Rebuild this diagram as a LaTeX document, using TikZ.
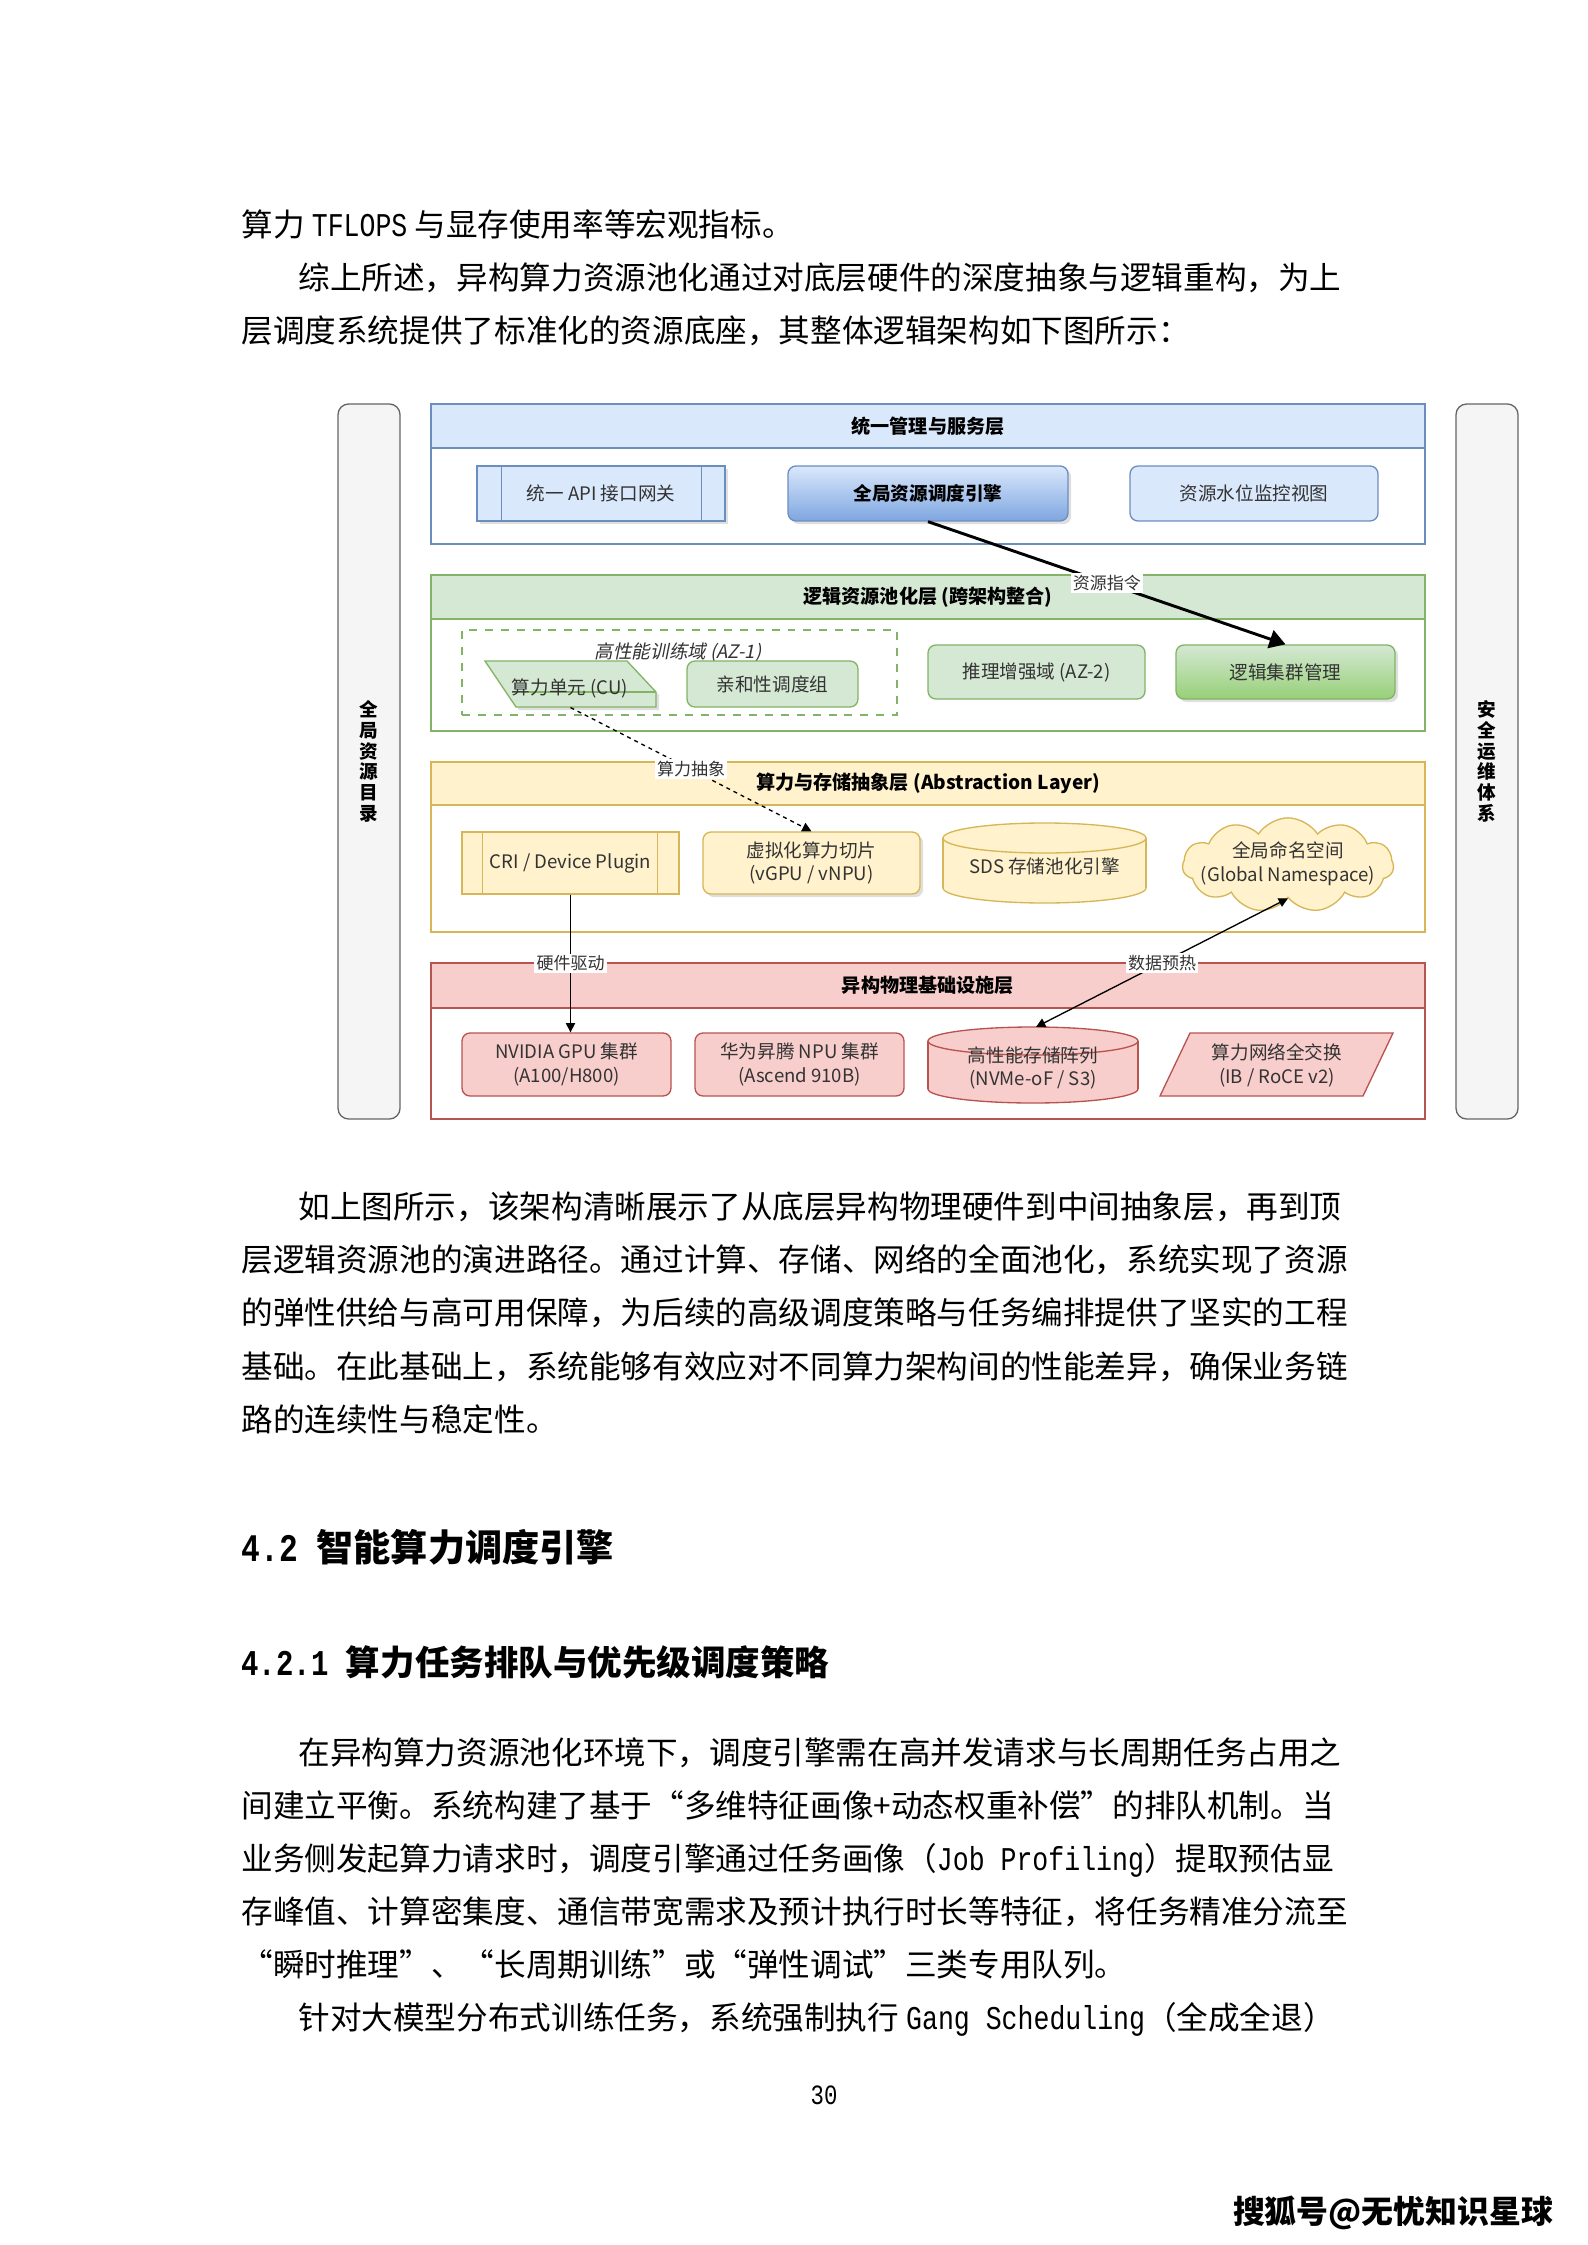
\documentclass[tikz,border=0pt]{standalone}
\usepackage{fontspec}
\setmainfont{Noto Sans CJK SC}
\newfontfamily\latinmono{Liberation Mono}[Scale=1.05,FakeStretch=0.8]
\newfontfamily\slantcjk{Noto Sans CJK SC}[FakeSlant=0.2]
\usetikzlibrary{positioning,arrows.meta,fit,shapes.symbols,shadows}

\definecolor{blueFill}{HTML}{DAE8FC}
\definecolor{blueLine}{HTML}{6C8EBF}
\definecolor{blueDeep}{HTML}{7EA6E0}
\definecolor{greenFill}{HTML}{D5E8D4}
\definecolor{greenLine}{HTML}{82B366}
\definecolor{greenDeep}{HTML}{97D077}
\definecolor{yellowFill}{HTML}{FFF2CC}
\definecolor{yellowLine}{HTML}{D6B656}
\definecolor{redFill}{HTML}{F8CECC}
\definecolor{redLine}{HTML}{B85450}
\definecolor{grayFill}{HTML}{F5F5F5}
\definecolor{grayLine}{HTML}{666666}
\definecolor{boxText}{HTML}{333333}

\newcommand{\pagefont}{\fontsize{11.9pt}{14pt}\selectfont}
\newcommand{\boxfont}{\fontsize{7pt}{9pt}\selectfont}
\newcommand{\headfont}{\fontsize{7.2pt}{9pt}\selectfont\bfseries}

\begin{document}
\begin{tikzpicture}[x=0.3765pt,y=-0.3765pt,>={Triangle[length=3.5pt,width=3.5pt]},
  textline/.style={anchor=base west,inner sep=0,font=\pagefont},
  frame/.style={draw=#1,fill=white,line width=0.5pt,inner sep=0},
  head/.style={draw=#1,line width=0.5pt,inner sep=0},
  headtext/.style={inner sep=0,font=\headfont},
  sidebar/.style={draw=grayLine,fill=grayFill,rounded corners=4pt,line width=0.5pt,inner sep=0},
  sidetext/.style={inner sep=0,align=center,font=\fontsize{7pt}{7.8pt}\selectfont\bfseries},
  card/.style={draw=#1,line width=0.5pt,inner sep=0,rounded corners=3pt},
  plainbox/.style={draw=#1,line width=0.5pt,inner sep=0},
  boxtext/.style={inner sep=0,font=\boxfont,text=boxText,align=center},
  shade/.style={drop shadow={shadow xshift=1.2pt,shadow yshift=-1.2pt,opacity=0.25}},
  edgelabel/.style={fill=white,inner sep=0.8pt,font=\fontsize{6.4pt}{7pt}\selectfont,text=boxText}]
\useasboundingbox (0,0) rectangle (1587,2245);
\fill[white] (0,0) rectangle (1587,2245);

% text above the figure
\node[textline] (p1a) at (241,237) {算力 {\latinmono TFLOPS} 与显存使用率等宏观指标。};
\node[textline] (p1b) at (298,290) {综上所述，异构算力资源池化通过对底层硬件的深度抽象与逻辑重构，为上};
\node[textline] (p1c) at (241,343) {层调度系统提供了标准化的资源底座，其整体逻辑架构如下图所示：};

% side columns
\node[sidebar,fit={(338,404)(400,1119)}] (catalog) {};
\node[sidetext] (catalogtext) at (catalog.center) {全\\局\\资\\源\\目\\录};
\node[sidebar,fit={(1456,404)(1518,1119)}] (secops) {};
\node[sidetext] (secopstext) at (secops.center) {安\\全\\运\\维\\体\\系};

% layer 1: management
\node[frame=blueLine,fit={(431,404)(1425,544)}] (mgmt) {};
\node[head=blueLine,fill=blueFill,fit={(431,404)(1425,448)}] (mgmthead) {};
\node[headtext] (mgmttitle) at (mgmthead.center) {统一管理与服务层};
\node[plainbox=blueLine,fill=blueFill,shade,fit={(477,466)(725,521)}] (api) {};
\draw[blueLine,line width=0.5pt] ([xshift=9.4pt]api.north west) -- ([xshift=9.4pt]api.south west)
  ([xshift=-9pt]api.north east) -- ([xshift=-9pt]api.south east);
\node[boxtext] (apitext) at (api.center) {统一 API 接口网关};
\node[card=blueLine,top color=blueFill,bottom color=blueDeep,shade,fit={(788,466)(1068,521)}] (sched) {};
\node[boxtext,font=\boxfont\bfseries,text=black] (schedtext) at (sched.center) {全局资源调度引擎};
\node[card=blueLine,fill=blueFill,fit={(1130,466)(1378,521)}] (watermon) {};
\node[boxtext] (watermontext) at (watermon.center) {资源水位监控视图};

% layer 2: logical pool
\node[frame=greenLine,fit={(431,575)(1425,731)}] (pool) {};
\node[head=greenLine,fill=greenFill,fit={(431,575)(1425,619)}] (poolhead) {};
\node[headtext] (pooltitle) at (poolhead.center) {逻辑资源池化层 (跨架构整合)};
\node[draw=greenLine,dashed,line width=0.5pt,inner sep=0,fit={(462,630)(897,715)}] (trainzone) {};
\node[boxtext,font={\slantcjk\boxfont}] (trainlabel) at (678,652) {高性能训练域 (AZ-1)};
\filldraw[draw=greenLine,fill=greenFill,line width=0.5pt,shade]
  (485,661) -- (627,661) -- (656,692) -- (656,707) -- (516,707) -- cycle;
\draw[greenLine,line width=0.5pt] (512,692) -- (656,692);
\node[inner sep=0,fit={(485,661)(656,707)}] (cu) {};
\node[boxtext] (cutext) at (570,688) {算力单元 (CU)};
\node[card=greenLine,fill=greenFill,fit={(687,661)(858,707)}] (affinity) {};
\node[boxtext] (affinitytext) at (affinity.center) {亲和性调度组};
\node[card=greenLine,fill=greenFill,fit={(928,645)(1145,699)}] (az2) {};
\node[boxtext] (az2text) at (az2.center) {推理增强域 (AZ-2)};
\node[card=greenLine,top color=greenFill,bottom color=greenDeep,shade,fit={(1176,645)(1395,699)}] (cluster) {};
\node[boxtext] (clustertext) at (cluster.center) {逻辑集群管理};

% layer 3: abstraction
\node[frame=yellowLine,fit={(431,762)(1425,932)}] (absl) {};
\node[head=yellowLine,fill=yellowFill,fit={(431,762)(1425,805)}] (abslhead) {};
\node[headtext] (absltitle) at (abslhead.center) {算力与存储抽象层 (Abstraction Layer)};
\node[plainbox=yellowLine,fill=yellowFill,fit={(462,832)(679,894)}] (cri) {};
\draw[yellowLine,line width=0.5pt] ([xshift=7.9pt]cri.north west) -- ([xshift=7.9pt]cri.south west)
  ([xshift=-8.3pt]cri.north east) -- ([xshift=-8.3pt]cri.south east);
\node[boxtext] (critext) at (cri.center) {CRI / Device Plugin};
\node[card=yellowLine,fill=yellowFill,shade,fit={(703,832)(920,894)}] (vslice) {};
\node[boxtext] (vslicetext) at (vslice.center) {虚拟化算力切片\\(vGPU / vNPU)};
\filldraw[draw=yellowLine,fill=yellowFill,line width=0.5pt] (1044.5,888) ellipse [x radius=101.5,y radius=15];
\fill[yellowFill] (943,838) rectangle (1146,888);
\draw[yellowLine,line width=0.5pt] (943,838) -- (943,888) (1146,838) -- (1146,888);
\filldraw[draw=yellowLine,fill=yellowFill,line width=0.5pt] (1044.5,838) ellipse [x radius=101.5,y radius=15];
\node[boxtext] (sds) at (1044.5,866) {SDS 存储池化引擎};
\node[cloud,cloud puffs=11,cloud puff arc=115,cloud ignores aspect,draw=yellowLine,fill=yellowFill,
  line width=0.5pt,minimum width=79.5pt,minimum height=35.5pt,inner sep=0] (gns) at (1288,865) {};
\node[boxtext] (gnstext) at (1288,864) {全局命名空间\\(Global Namespace)};

% layer 4: physical
\node[frame=redLine,fit={(431,963)(1425,1119)}] (phys) {};
\node[head=redLine,fill=redFill,fit={(431,963)(1425,1008)}] (physhead) {};
\node[headtext] (physTitle) at (physhead.center) {异构物理基础设施层};
\node[card=redLine,fill=redFill,fit={(462,1033)(671,1096)}] (nvidia) {};
\node[boxtext] (nvidiatext) at (nvidia.center) {NVIDIA GPU 集群\\(A100/H800)};
\node[card=redLine,fill=redFill,fit={(695,1033)(904,1096)}] (ascend) {};
\node[boxtext] (ascendtext) at (ascend.center) {华为昇腾 NPU 集群\\(Ascend 910B)};
\filldraw[draw=redLine,fill=redFill,line width=0.5pt] (1033,1089) ellipse [x radius=105,y radius=14];
\fill[redFill] (928,1041) rectangle (1138,1089);
\draw[redLine,line width=0.5pt] (928,1041) -- (928,1089) (1138,1041) -- (1138,1089);
\filldraw[draw=redLine,fill=redFill,line width=0.5pt] (1033,1041) ellipse [x radius=105,y radius=14];
\node[boxtext] (nvme) at (1033,1068) {高性能存储阵列\\(NVMe-oF / S3)};
\coordinate (nvmetop) at (1036,1027);
\filldraw[draw=redLine,fill=redFill,line width=0.5pt] (1190,1033) -- (1393,1033) -- (1363,1096) -- (1160,1096) -- cycle;
\node[boxtext] (fabric) at (1277,1065) {算力网络全交换\\(IB / RoCE v2)};

% connectors
\draw[line width=1.1pt,-{Triangle[length=6pt,width=7pt]}] (sched.south) -- (cluster.north)
  node[midway,edgelabel]{资源指令};
\draw[line width=0.5pt,dash pattern=on 1.5pt off 1.5pt,->] (cu.south) -- (vslice.north)
  node[midway,edgelabel]{算力抽象};
\draw[line width=0.5pt,->] (cri.south) -- (cri.south |- nvidia.north)
  node[midway,edgelabel]{硬件驱动};
\draw[line width=0.5pt,<->] (nvmetop) -- (gns.south)
  node[midway,edgelabel]{数据预热};

% text below the figure
\node[textline] (p2a) at (298,1218) {如上图所示，该架构清晰展示了从底层异构物理硬件到中间抽象层，再到顶};
\node[textline] (p2b) at (241,1271) {层逻辑资源池的演进路径。通过计算、存储、网络的全面池化，系统实现了资源};
\node[textline] (p2c) at (241,1324) {的弹性供给与高可用保障，为后续的高级调度策略与任务编排提供了坚实的工程};
\node[textline] (p2d) at (241,1378) {基础。在此基础上，系统能够有效应对不同算力架构间的性能差异，确保业务链};
\node[textline] (p2e) at (241,1431) {路的连续性与稳定性。};

\node[textline,font=\fontsize{14pt}{16pt}\selectfont\bfseries] (sec42) at (241,1561)
  {{\latinmono\bfseries 4.2 }智能算力调度引擎};
\node[textline,font=\fontsize{13pt}{15pt}\selectfont\bfseries] (sec421) at (241,1675)
  {{\latinmono\bfseries 4.2.1 }算力任务排队与优先级调度策略};

\node[textline] (p3a) at (298,1764) {在异构算力资源池化环境下，调度引擎需在高并发请求与长周期任务占用之};
\node[textline] (p3b) at (241,1817) {间建立平衡。系统构建了基于“多维特征画像+动态权重补偿”的排队机制。当};
\node[textline] (p3c) at (241,1870) {业务侧发起算力请求时，调度引擎通过任务画像（{\latinmono Job Profiling}）提取预估显};
\node[textline] (p3d) at (241,1923) {存峰值、计算密集度、通信带宽需求及预计执行时长等特征，将任务精准分流至};
\node[textline] (p3e) at (241,1976) {“瞬时推理”、“长周期训练”或“弹性调试”三类专用队列。};
\node[textline] (p3f) at (298,2029) {针对大模型分布式训练任务，系统强制执行 {\latinmono Gang Scheduling}（全成全退）};

\node[font=\fontsize{10pt}{11pt}\selectfont\latinmono,inner sep=0] (pageno) at (824,2095) {30};
\node[font=\fontsize{12pt}{14pt}\selectfont\bfseries,inner sep=0] (sohu) at (1393,2213) {搜狐号@无忧知识星球};
\end{tikzpicture}
\end{document}
